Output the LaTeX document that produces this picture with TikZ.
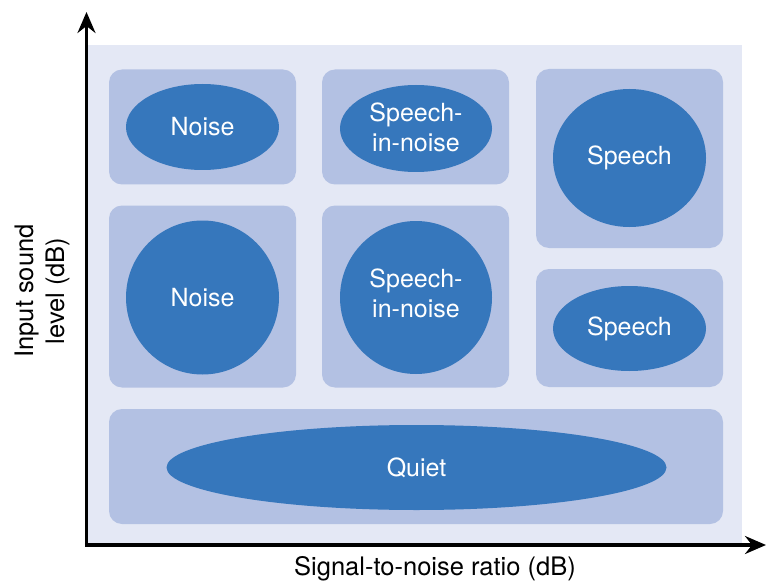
\documentclass[tikz,border=0pt]{standalone}
\usepackage{fontspec}
\setmainfont{TeX Gyre Heros}
\usetikzlibrary{shapes.geometric,arrows.meta}
\definecolor{bgc}{RGB}{228,232,245}
\definecolor{boxc}{RGB}{179,193,227}
\definecolor{blobc}{RGB}{54,119,188}
\tikzset{
  panel/.style={fill=boxc, draw=none, rounded corners=13pt, inner sep=0pt, outer sep=0pt},
  blob/.style={ellipse, fill=blobc, draw=none, inner sep=0pt, outer sep=0pt},
  lab/.style={text=white, font=\fontsize{25}{30}\selectfont, align=center, inner sep=0pt},
  axislab/.style={text=black, font=\fontsize{25.5}{31}\selectfont, align=center, inner sep=0pt},
  axisline/.style={line width=3.2pt, -{Stealth[length=21pt,width=18pt,inset=7pt]}}
}
\begin{document}
\begin{tikzpicture}[x=1pt,y=-1pt]
\useasboundingbox (0,0) rectangle (766,583);
% background plane
\fill[bgc] (88,45) rectangle (742,545);
% panels
\node[panel, minimum width=187, minimum height=115] (p1) at (202.5,127) {};
\node[panel, minimum width=187, minimum height=115] (p2) at (415.5,127) {};
\node[panel, minimum width=187, minimum height=179] (p3) at (629.5,158.5) {};
\node[panel, minimum width=187, minimum height=182] (p4) at (202.5,296.5) {};
\node[panel, minimum width=187, minimum height=182] (p5) at (415.5,296.5) {};
\node[panel, minimum width=187, minimum height=118] (p6) at (629.5,328) {};
\node[panel, minimum width=614, minimum height=115] (p7) at (416,466.5) {};
% blobs
\node[blob, minimum width=153, minimum height=86] (b1) at (202.5,127) {};
\node[blob, minimum width=152, minimum height=87] (b2) at (416,128.5) {};
\node[blob, minimum width=153, minimum height=138] (b3) at (629.5,158) {};
\node[blob, minimum width=153, minimum height=154] (b4) at (202.5,297.5) {};
\node[blob, minimum width=152, minimum height=153] (b5) at (416,297.5) {};
\node[blob, minimum width=153, minimum height=85] (b6) at (629.5,328.5) {};
\node[blob, minimum width=500, minimum height=85] (b7) at (416.5,467.5) {};
% labels
\node[lab] (t1) at (b1) {Noise};
\node[lab] (t2) at ([yshift=1pt]b2) {Speech-\\in-noise};
\node[lab] (t3) at (b3) {Speech};
\node[lab] (t4) at (b4) {Noise};
\node[lab] (t5) at ([yshift=4pt]b5) {Speech-\\in-noise};
\node[lab] (t6) at (b6) {Speech};
\node[lab] (t7) at (b7) {Quiet};
% axes
\coordinate (o) at (86.5,545);
\coordinate (ytip) at (86.5,12);
\coordinate (xtip) at (766,545);
\draw[axisline] ([yshift=-1.6pt]o) -- (ytip);
\draw[axisline] ([xshift=-1.6pt]o) -- (xtip);
\node[axislab] (xl) at (435,569) {Signal-to-noise ratio (dB)};
\node[axislab, rotate=90] (yl) at (42,291) {Input sound\\level (dB)};
\end{tikzpicture}
\end{document}
